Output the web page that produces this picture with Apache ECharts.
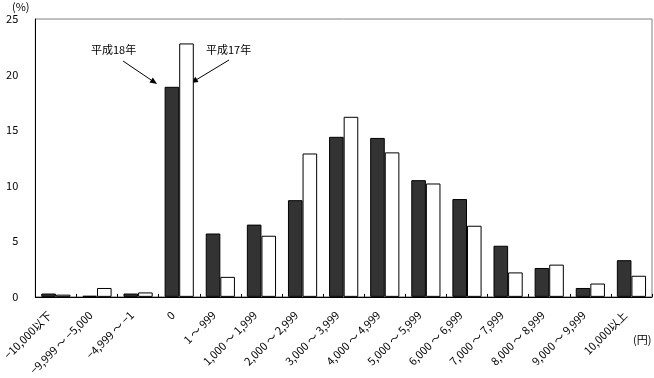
<!DOCTYPE html>
<html>
<head>
<meta charset="utf-8">
<script src="https://cdn.jsdelivr.net/npm/echarts@6/dist/echarts.min.js"></script>
<style>
  html, body { margin: 0; padding: 0; background: #fff; }
  #chart { width: 654px; height: 378px; }
</style>
</head>
<body>
<div id="chart"></div>
<script>
// 階級（円）
const categories = [
  '−10,000以下', '−9,999 ～ −5,000', '−4,999 ～ −1', '0',
  '1 ～ 999', '1,000 ～ 1,999', '2,000 ～ 2,999', '3,000 ～ 3,999',
  '4,000 ～ 4,999', '5,000 ～ 5,999', '6,000 ～ 6,999', '7,000 ～ 7,999',
  '8,000 ～ 8,999', '9,000 ～ 9,999', '10,000以上'
]
// 構成比（%）
const valuesH18 = [0.3, 0.1, 0.3, 18.9, 5.7, 6.5, 8.7, 14.4, 14.3, 10.5, 8.8, 4.6, 2.6, 0.8, 3.3]
const valuesH17 = [0.2, 0.8, 0.4, 22.8, 1.8, 5.5, 12.9, 16.2, 13.0, 10.2, 6.4, 2.2, 2.9, 1.2, 1.9]
const yTicks = { min: 0, max: 25, interval: 5 }

const font = '"Noto Sans CJK JP", "DejaVu Sans", sans-serif'
const chart = echarts.init(document.getElementById('chart'), null, { renderer: 'canvas' })

// 矢印（注記）
function arrow(x1, y1, x2, y2) {
  const a = Math.atan2(y2 - y1, x2 - x1)
  const len = 7, w = 3
  const bx = x2 - len * Math.cos(a), by = y2 - len * Math.sin(a)
  const px = -Math.sin(a) * w, py = Math.cos(a) * w
  return [{
    type: 'line',
    shape: { x1: x1, y1: y1, x2: bx, y2: by },
    style: { stroke: '#000', lineWidth: 1 }
  }, {
    type: 'polygon',
    shape: { points: [[x2, y2], [bx + px, by + py], [bx - px, by - py]] },
    style: { fill: '#000' }
  }]
}

const option = {
  animation: false,
  backgroundColor: '#fff',
  textStyle: { fontFamily: font },
  grid: {
    left: 32, right: 2, top: 19, bottom: 79,
    show: true, borderColor: '#808080', borderWidth: 1
  },
  xAxis: {
    type: 'category',
    data: categories,
    axisLine: { lineStyle: { color: '#000', width: 1 } },
    axisTick: { show: true, inside: true, length: 3, lineStyle: { color: '#000' } },
    axisLabel: {
      interval: 0, rotate: 45, fontSize: 11, color: '#000',
      fontFamily: font, margin: 10, padding: [0, 9, 0, 0]
    }
  },
  yAxis: {
    type: 'value',
    min: yTicks.min, max: yTicks.max, interval: yTicks.interval,
    splitLine: { show: false },
    axisLine: { show: true, lineStyle: { color: '#000', width: 1 } },
    axisTick: { show: false },
    axisLabel: { fontSize: 11, color: '#000', margin: 17, fontFamily: font }
  },
  series: [{
    name: '平成18年',
    type: 'bar',
    data: valuesH18,
    barGap: '0%',
    barCategoryGap: '29%',
    itemStyle: { color: '#333333', borderColor: '#000', borderWidth: 1 }
  }, {
    name: '平成17年',
    type: 'bar',
    data: valuesH17,
    barGap: '0%',
    barCategoryGap: '29%',
    itemStyle: { color: '#ffffff', borderColor: '#000', borderWidth: 1 }
  }],
  graphic: [
    { type: 'text', left: 12, top: 1, style: { text: '(%)', font: '11px ' + font, fill: '#000' } },
    { type: 'text', left: 633, top: 334, style: { text: '(円)', font: '11px ' + font, fill: '#000' } },
    { type: 'text', left: 91, top: 44, style: { text: '平成18年', font: '11px ' + font, fill: '#000' } },
    { type: 'text', left: 206, top: 44, style: { text: '平成17年', font: '11px ' + font, fill: '#000' } }
  ].concat(arrow(123, 61, 157, 84), arrow(229, 60, 191, 83))
}

chart.setOption(option)
</script>
</body>
</html>
